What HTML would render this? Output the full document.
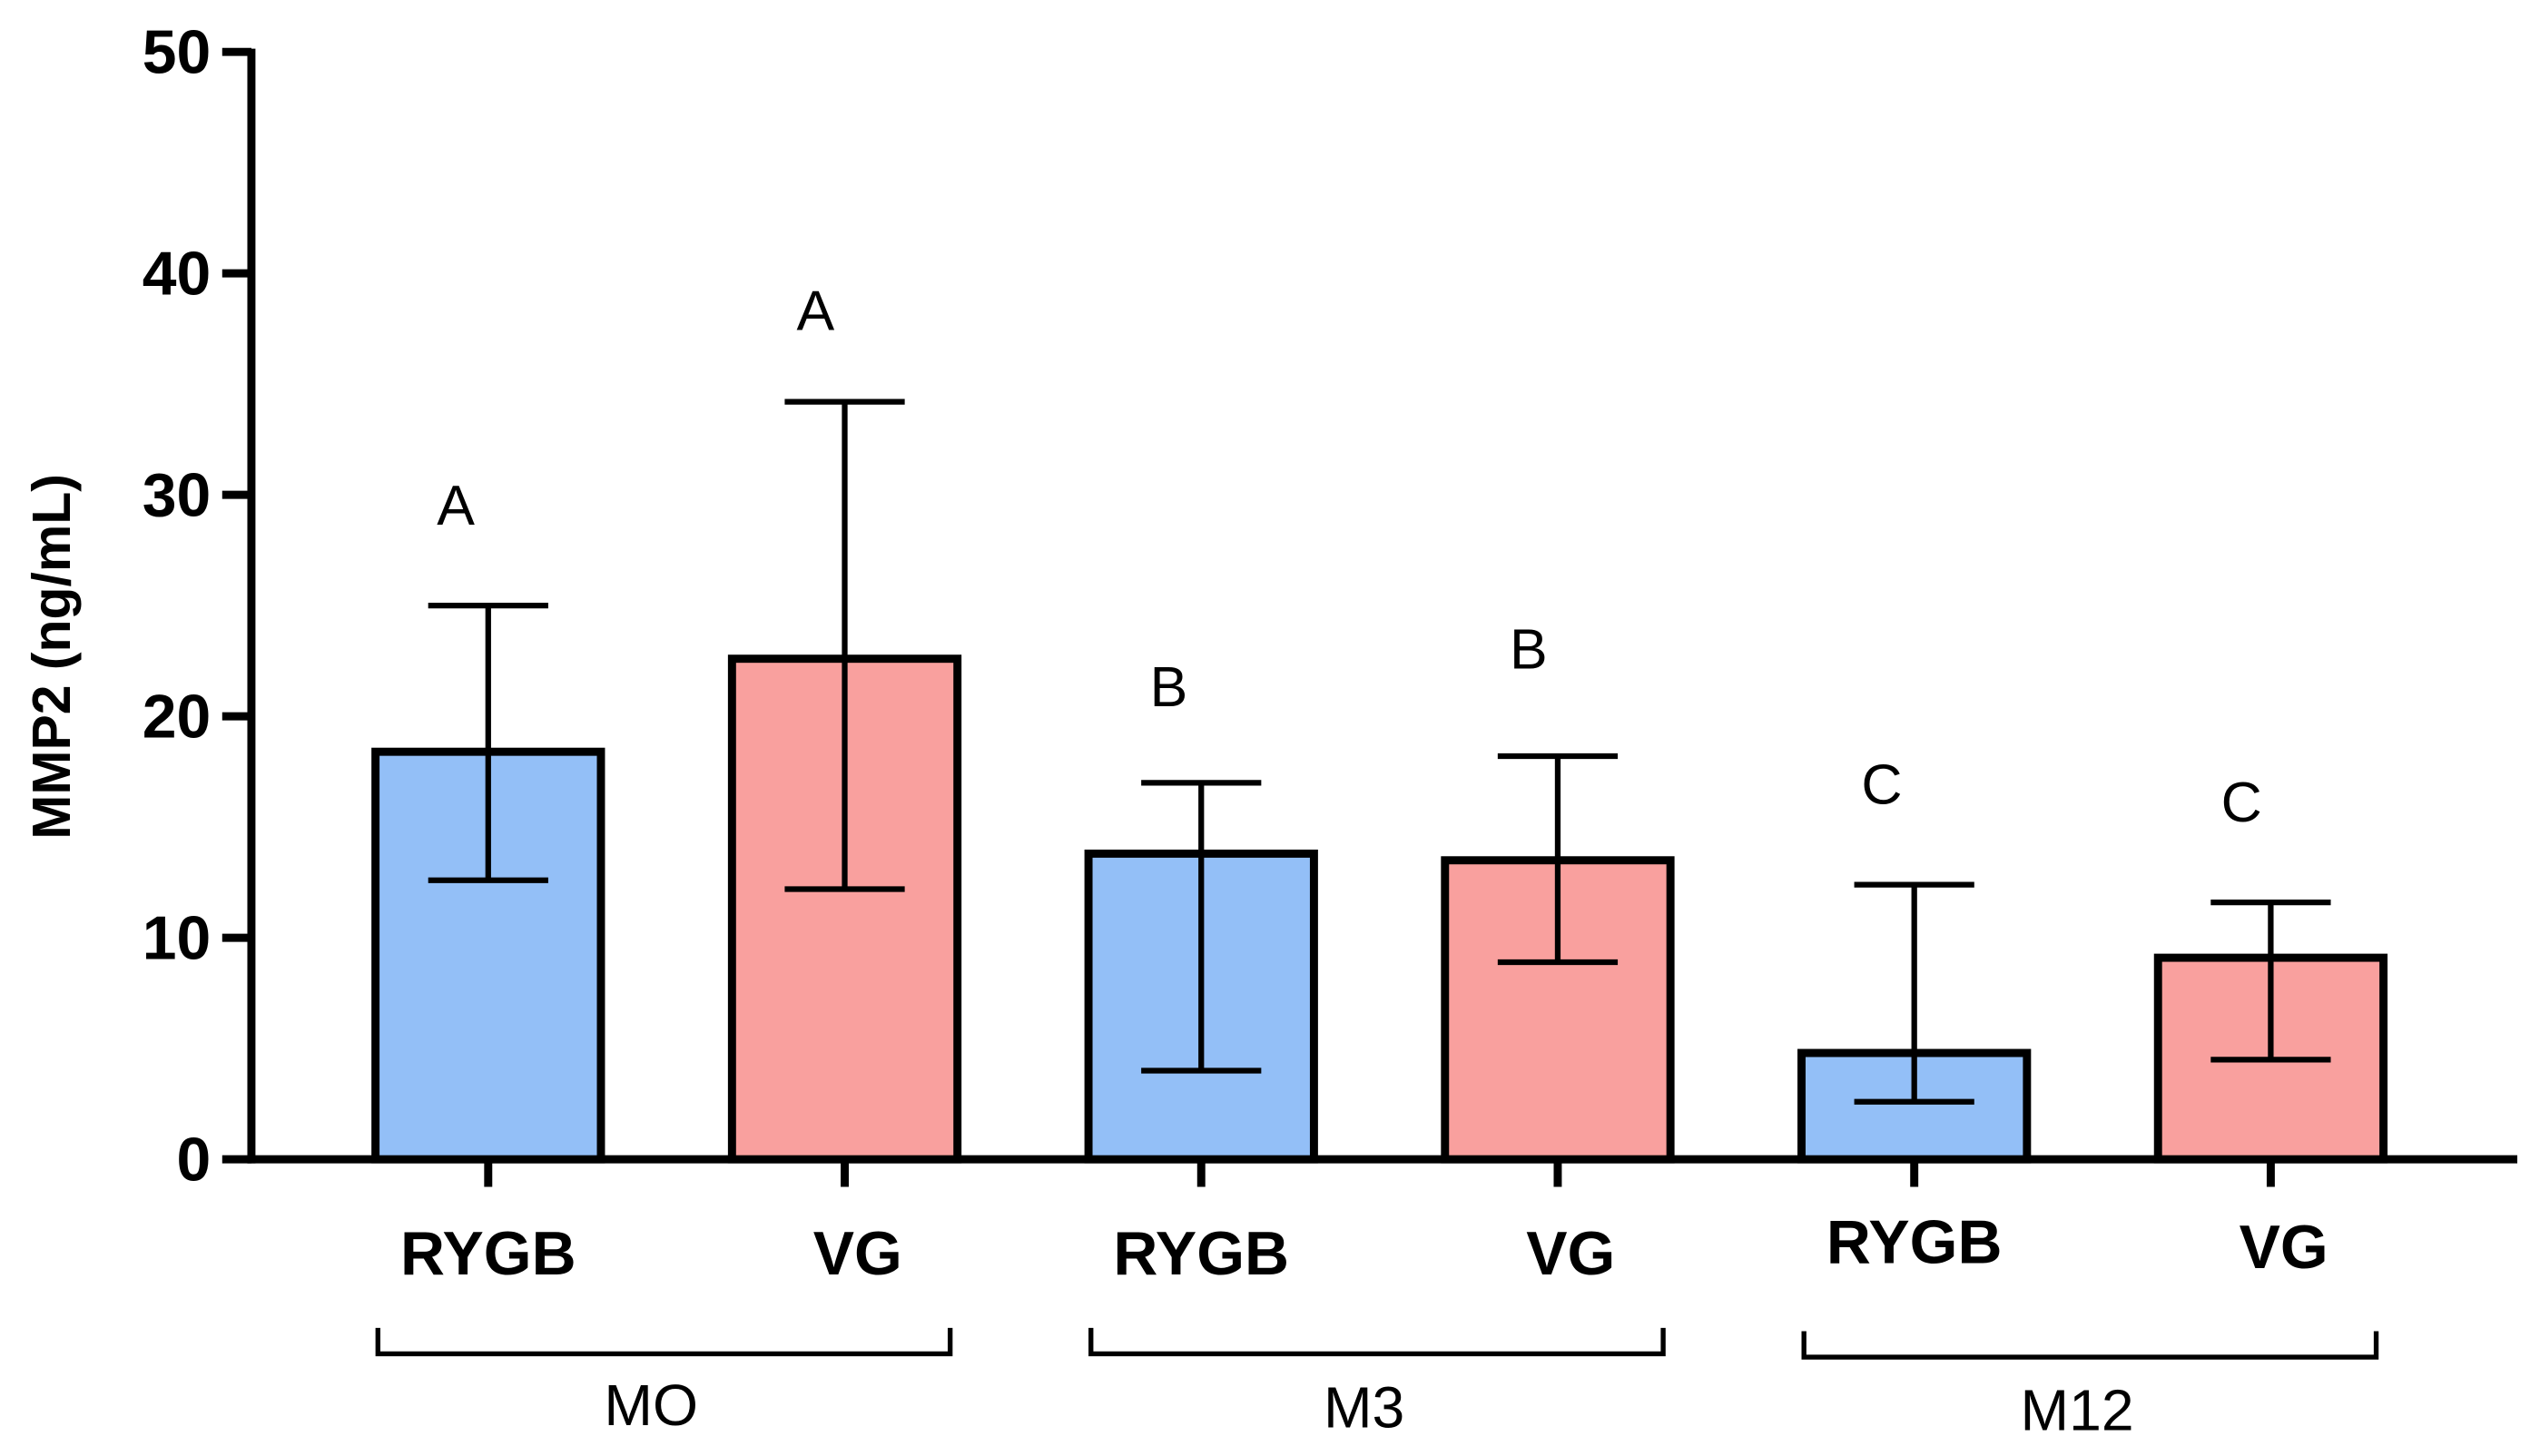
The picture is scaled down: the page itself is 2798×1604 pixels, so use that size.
<!DOCTYPE html>
<html><head><meta charset="utf-8">
<style>
html,body{margin:0;padding:0;background:#fff;}
svg{display:block;}
text{font-family:"Liberation Sans",Arial,sans-serif;fill:#000;}
</style></head>
<body>
<svg id="chart" width="2798" height="1604" viewBox="0 0 1566 898" preserveAspectRatio="none" xmlns="http://www.w3.org/2000/svg">
<g id="axes"></g>
<g id="bars"></g>
<g id="labels"></g>
</svg>
<script>
const categories = ["RYGB","VG","RYGB","VG","RYGB","VG"];
const groups = ["MO","M3","M12"];
const means = [18.4, 22.6, 13.8, 13.5, 4.8, 9.1];
const errLow = [12.6, 12.2, 4.0, 8.9, 2.6, 4.5];
const errHigh = [25.0, 34.2, 17.0, 18.2, 12.4, 11.6];
const letters = ["A","A","B","B","C","C"];
const letterValues = [29.6, 38.4, 21.4, 23.1, 17.0, 16.2];
const yTicks = [0,10,20,30,40,50];

const NS = "http://www.w3.org/2000/svg";
const x0 = 155, y0 = 715, yTop = 32, yMax = 50;
function y(v){ return y0 - (v / yMax) * (y0 - yTop); }
function xc(i){ return 301 + i * 219.8; }
const barW = 139;
const colors = ["#93bff7","#f9a09e"];
function el(tag, attrs, parent, txt){
  const e = document.createElementNS(NS, tag);
  for (const k in attrs) e.setAttribute(k, attrs[k]);
  if (txt !== undefined) e.textContent = txt;
  parent.appendChild(e);
  return e;
}
const axes = document.getElementById('axes');
const bars = document.getElementById('bars');
const labels = document.getElementById('labels');

categories.forEach((c, i) => {
  const cx = xc(i);
  const r = el('rect', {x: cx - barW/2, y: y(means[i]), width: barW, height: y0 - y(means[i]), fill: colors[i%2], stroke: '#000', 'stroke-width': 5}, bars);
  
  
  const eb = el('path', {d: `M${cx-37},${y(errHigh[i])}H${cx+37}M${cx},${y(errHigh[i])}V${y(errLow[i])}M${cx-37},${y(errLow[i])}H${cx+37}`, stroke: '#000', 'stroke-width': 3.5, fill: 'none'}, bars);
  
  
  const lt = el('text', {x: cx - 20 + (i%2? 2: 0), y: y(letterValues[i]) + 13, 'font-size': 35, 'text-anchor': 'middle'}, labels, letters[i]);
  
  
  const xl = el('text', {x: cx + (i%2? 8: 0), y: 786 + (i==4? -7: i==5? -4: 0), 'font-size': 38, 'font-weight': 'bold', 'text-anchor': 'middle'}, labels, c);
  
  
  const tk = el('line', {x1: cx, x2: cx, y1: y0, y2: y0 + 17, stroke: '#000', 'stroke-width': 5}, axes);
  
  
});

const ya = el('line', {x1: x0, x2: x0, y1: yTop - 2, y2: y0 + 2.5, stroke: '#000', 'stroke-width': 5}, axes);


const xa = el('line', {x1: x0 - 2.5, x2: 1552, y1: y0, y2: y0, stroke: '#000', 'stroke-width': 5}, axes);


yTicks.forEach(v => {
  const t = el('line', {x1: x0 - 18, x2: x0, y1: y(v), y2: y(v), stroke: '#000', 'stroke-width': 5}, axes);
  
  
  const l = el('text', {x: 130, y: y(v) + 13, 'font-size': 38, 'font-weight': 'bold', 'text-anchor': 'end'}, labels, String(v));
  
  
});
const yt = el('text', {x: 0, y: 0, 'font-size': 33, 'font-weight': 'bold', 'text-anchor': 'middle', transform: 'translate(43,405) rotate(-90)'}, labels, 'MMP2 (ng/mL)');



groups.forEach((g, k) => {
  const xl = xc(2*k) - 68, xr = xc(2*k+1) + 65, by = 835 + (k==2?2:0);
  const b = el('path', {d: `M${xl},${by-16}V${by}H${xr}V${by-16}`, stroke: '#000', 'stroke-width': 3, fill: 'none'}, axes);
  
  
  const t = el('text', {x: (xl + xr)/2 - 8, y: 879 + k*1.5, 'font-size': 36, 'text-anchor': 'middle'}, labels, g);
  
  
});
</script>
</body></html>
